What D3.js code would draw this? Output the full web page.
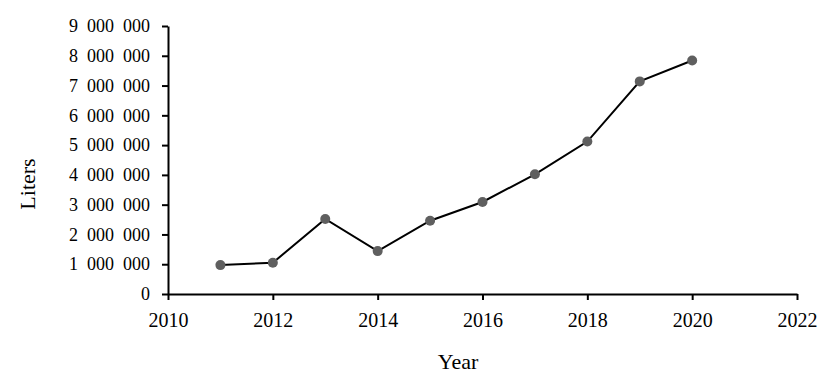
<!DOCTYPE html>
<html>
<head>
<meta charset="utf-8">
<script src="https://cdn.jsdelivr.net/npm/d3@7"></script>
<style>
  body { margin: 0; background: #fff; }
  text { font-family: "Liberation Serif", "Times New Roman", serif; fill: #000; }
</style>
</head>
<body>
<div id="chart"></div>
<script>
// values
var years = [2011, 2012, 2013, 2014, 2015, 2016, 2017, 2018, 2019, 2020];
var liters = [970000, 1050000, 2520000, 1440000, 2460000, 3090000, 4020000, 5120000, 7140000, 7840000];
var xTicks = [2010, 2012, 2014, 2016, 2018, 2020, 2022];
var yTicks = [0, 1000000, 2000000, 3000000, 4000000, 5000000, 6000000, 7000000, 8000000, 9000000];

var width = 826, height = 385;
var margin = {left: 168, right: 29, top: 26, bottom: 91};

var svg = d3.select("#chart").append("svg")
    .attr("width", width)
    .attr("height", height);

var x = d3.scaleLinear().domain([2010, 2022]).range([margin.left, width - margin.right]);
var y = d3.scaleLinear().domain([0, 9000000]).range([height - margin.bottom, margin.top]);

// thousands separated by a space, like the original
var fmt = function (v) {
    return d3.format(",")(v).replace(/,/g, " ");
};

var xAxis = svg.append("g")
    .attr("transform", "translate(0," + y(0) + ")")
    .call(d3.axisBottom(x).tickValues(xTicks).tickFormat(d3.format("d")).tickSize(6).tickPadding(13).tickSizeOuter(0));

var yAxis = svg.append("g")
    .attr("transform", "translate(" + x(2010) + ",0)")
    .call(d3.axisLeft(y).tickValues(yTicks).tickFormat(fmt).tickSize(6).tickPadding(12).tickSizeOuter(0));

xAxis.selectAll("text").style("font-size", "20px");
yAxis.selectAll("text").style("font-size", "18px").style("word-spacing", "4.5px");
svg.selectAll(".domain").attr("stroke", "#000").attr("stroke-width", 2);
svg.selectAll(".tick line").attr("stroke", "#000").attr("stroke-width", 2);

var line = d3.line()
    .x(function (d, i) { return x(years[i]); })
    .y(function (d) { return y(d); });

svg.append("path")
    .datum(liters)
    .attr("d", line)
    .attr("fill", "none")
    .attr("stroke", "#000")
    .attr("stroke-width", 2);

svg.selectAll("circle")
    .data(liters)
    .enter().append("circle")
    .attr("cx", function (d, i) { return x(years[i]); })
    .attr("cy", function (d) { return y(d); })
    .attr("r", 5)
    .attr("fill", "#5f5f5f");

svg.append("text")
    .attr("x", 458)
    .attr("y", 369)
    .attr("text-anchor", "middle")
    .style("font-size", "22px")
    .text("Year");

svg.append("text")
    .attr("transform", "translate(35,184) rotate(-90)")
    .attr("text-anchor", "middle")
    .style("font-size", "22px")
    .text("Liters");
</script>
</body>
</html>
